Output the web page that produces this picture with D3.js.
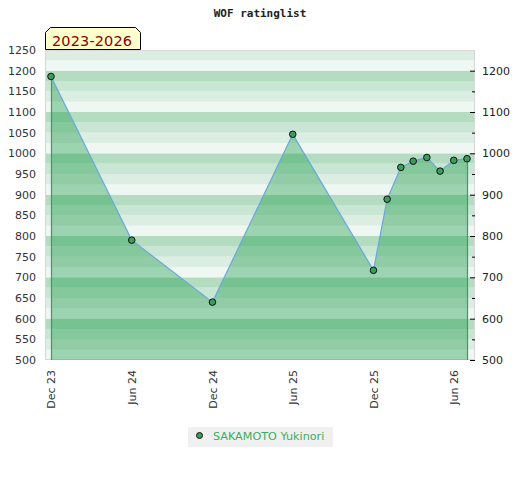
<!DOCTYPE html>
<html><head><meta charset="utf-8">
<script src="https://cdn.jsdelivr.net/npm/d3@7"></script>
<style>body{margin:0;background:#fff}svg{display:block}</style>
</head><body>
<svg id="c" width="520" height="480"></svg>
<script>
const title = "WOF ratinglist";
const tabTitle = "2023-2026";
const seriesName = "SAKAMOTO Yukinori";
const months = ["2023-12","2024-06","2024-12","2025-06","2025-12","2026-01","2026-02","2026-03","2026-04","2026-05","2026-06","2026-07"];
const ratings = [1186,790,640,1046,717,889,966,981,990,957,983,987];
const tickMonths = ["2023-12","2024-06","2024-12","2025-06","2025-12","2026-06"];
const tickLabels = ["Dec 23","Jun 24","Dec 24","Jun 25","Dec 25","Jun 26"];
const leftTicks = [500,550,600,650,700,750,800,850,900,950,1000,1050,1100,1150,1200,1250];
const rightMajor = [500,600,700,800,900,1000,1100,1200];
const rightMinor = [550,650,750,850,950,1050,1150];

const parse = d3.timeParse("%Y-%m");
const data = months.map((m,i)=>({d:parse(m), v:ratings[i]}));

const svg = d3.select("#c");
const L=45, R=475, T=50, B=360;
const x = d3.scaleTime().domain([parse("2023-12"), parse("2026-07")]).range([51,467]);
const y = d3.scaleLinear().domain([500,1250]).range([B,T]);

// stripes
const stripeCols = {0:"#eef7f2",25:"#dcede3",50:"#c8e6d3",75:"#b3dcc1"};
const bands = d3.range(500,1250,25);
svg.append("g").selectAll("rect").data(bands).join("rect")
  .attr("x",L).attr("width",R-L)
  .attr("y",d=>y(d+25)).attr("height",d=>y(d)-y(d+25))
  .attr("fill",d=>stripeCols[d%100]);
svg.append("rect").attr("x",L+0.5).attr("y",T+0.5).attr("width",R-L-1).attr("height",B-T-1)
  .attr("fill","none").attr("stroke","#d8d8d8");

// area
const area = d3.area().x(d=>x(d.d)).y0(y(500)).y1(d=>y(d.v));
svg.append("path").datum(data).attr("d",area).attr("fill","rgba(16,150,62,0.37)");
const first=data[0], last=data[data.length-1];
svg.append("g").selectAll("line").data([first,last]).join("line")
  .attr("x1",d=>Math.round(x(d.d))+0.5).attr("x2",d=>Math.round(x(d.d))+0.5)
  .attr("y1",d=>y(d.v)).attr("y2",y(500))
  .attr("stroke","#3a9e5c").attr("stroke-width",1.2);
svg.append("path").datum(data).attr("d",d3.line().x(d=>x(d.d)).y(d=>y(d.v)))
  .attr("fill","none").attr("stroke","#6aa8dc").attr("stroke-width",1.2);
svg.append("g").selectAll("circle").data(data).join("circle")
  .attr("cx",d=>x(d.d)).attr("cy",d=>y(d.v)).attr("r",3.3)
  .attr("fill","#3a9e5a").attr("stroke","#111").attr("stroke-width",1);

// left axis labels
const la = svg.append("g").attr("transform",`translate(${L},0)`)
  .call(d3.axisLeft(y).tickValues(leftTicks).tickSize(0).tickPadding(9).tickFormat(d3.format("d")));
la.select(".domain").remove();
la.selectAll("text").attr("font-family","DejaVu Sans").attr("font-size",11).attr("fill","#333");

// right axis
const ra = svg.append("g").attr("transform",`translate(${R},0)`)
  .call(d3.axisRight(y).tickValues(rightMajor).tickSize(-5).tickPadding(7).tickFormat(d3.format("d")));
ra.select(".domain").remove();
ra.selectAll("line").attr("stroke","#000");
ra.selectAll("text").attr("font-family","DejaVu Sans").attr("font-size",11).attr("fill","#222");
const rm = svg.append("g").attr("transform",`translate(${R},0)`)
  .call(d3.axisRight(y).tickValues(rightMinor).tickSize(-3).tickFormat(""));
rm.select(".domain").remove();
rm.selectAll("line").attr("stroke","#000");

// x axis
const xa = svg.append("g").attr("transform",`translate(0,${B})`)
  .call(d3.axisBottom(x).tickValues(tickMonths.map(parse)).tickSize(0)
    .tickFormat((d,i)=>tickLabels[i]));
xa.select(".domain").remove();
xa.selectAll("text").attr("font-family","DejaVu Sans").attr("font-size",11).attr("fill","#333")
  .attr("text-anchor","end").attr("transform","rotate(-90)")
  .attr("x",-10).attr("y",0).attr("dy","0.35em");

// title
svg.append("text").attr("x",260).attr("y",17).attr("text-anchor","middle")
  .attr("font-family","DejaVu Sans Mono").attr("font-weight","bold").attr("font-size",11)
  .attr("fill","#222").text(title);

// tab title
svg.append("path").attr("d","M45.5,49.5 L45.5,32.5 L50.5,27.5 L135.5,27.5 L140.5,32.5 L140.5,49.5 Z")
  .attr("fill","#ffffcc").attr("stroke","#000").attr("stroke-width",1);
svg.append("text").attr("x",92).attr("y",45.6).attr("text-anchor","middle")
  .attr("font-family","DejaVu Sans").attr("font-size",14.5).attr("fill","#8b0000")
  .attr("textLength",80).text(tabTitle);

// legend
const lg = svg.append("g");
lg.append("rect").attr("x",188).attr("y",427).attr("width",145).attr("height",20).attr("fill","#f0f0f0");
lg.append("circle").attr("cx",199.5).attr("cy",435.5).attr("r",3).attr("fill","#3a9e5a").attr("stroke","#111");
lg.append("text").attr("x",213).attr("y",440).attr("font-family","DejaVu Sans").attr("font-size",11.2)
  .attr("fill","#3cac63").text(seriesName);
</script>
</body></html>
